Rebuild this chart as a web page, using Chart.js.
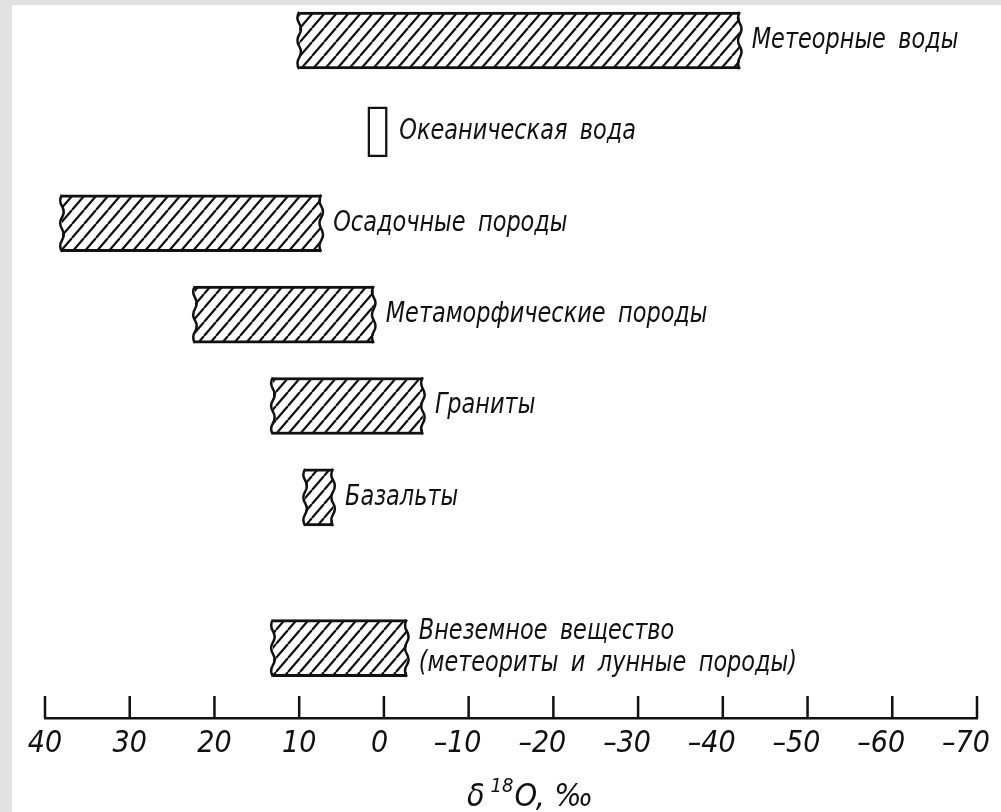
<!DOCTYPE html>
<html>
<head>
<meta charset="utf-8">
<script src="https://cdn.jsdelivr.net/npm/chart.js@4.4.0/dist/chart.umd.min.js"></script>
<style>
html, body { margin: 0; padding: 0; background: #fff; }
canvas { display: block; }
</style>
</head>
<body>
<canvas id="chart" width="1001" height="812"></canvas>
<script>
// data (delta 18O, per mille)
var categories = ['Метеорные воды', 'Океаническая вода', 'Осадочные породы', 'Метаморфические породы',
    'Граниты', 'Базальты', ['Внеземное вещество', '(метеориты и лунные породы)']];
var rowIndex = [0, 1, 2, 3, 4, 5, 6.65];
var rangeFrom = [10, 1.9, 38, 22.3, 13.1, 9.3, 13.1];
var rangeTo = [-42, -0.4, 7.4, 1.2, -4.6, 6, -2.7];
var tickValues = [40, 30, 20, 10, 0, -10, -20, -30, -40, -50, -60, -70];

var FONT = '"Liberation Sans Narrow", "DejaVu Sans Condensed", sans-serif';
var INK = '#111';
var plainRow = 1; // oceanic water is drawn as an empty box

function hatch() {
    var w = 12, h = 14;
    var c = document.createElement('canvas');
    c.width = w; c.height = h;
    var g = c.getContext('2d');
    g.fillStyle = '#fff';
    g.fillRect(0, 0, w, h);
    g.strokeStyle = INK;
    g.lineWidth = 2.2;
    g.beginPath();
    for (var k = -1; k <= 1; k++) {
        g.moveTo(k * w, h);
        g.lineTo(k * w + w, 0);
    }
    g.stroke();
    return g.createPattern(c, 'repeat');
}

var rows = categories.map(function (c, i) {
    return { x: [rangeFrom[i], rangeTo[i]], y: rowIndex[i], name: c };
});

function wave(ctx, x, top, bottom) {
    var n = 5;
    var step = (bottom - top) / n;
    ctx.beginPath();
    ctx.moveTo(x, top);
    for (var k = 0; k < n; k++) {
        var y0 = top + k * step;
        ctx.quadraticCurveTo(x + (k % 2 ? 3.5 : -3.5), y0 + step / 2, x, y0 + step);
    }
    ctx.stroke();
}

var figurePlugin = {
    id: 'figure',
    beforeDraw: function (chart) {
        var ctx = chart.ctx;
        ctx.save();
        ctx.fillStyle = '#e2e2e2';
        ctx.fillRect(0, 0, chart.width, chart.height);
        ctx.fillStyle = '#fff';
        ctx.fillRect(12, 5, chart.width - 12, chart.height - 5);
        ctx.restore();
    },
    afterDatasetsDraw: function (chart) {
        var ctx = chart.ctx;
        ctx.save();
        ctx.strokeStyle = INK;
        ctx.fillStyle = INK;
        ctx.lineWidth = 2.5;
        chart.data.datasets.forEach(function (ds, di) {
            var meta = chart.getDatasetMeta(di);
            meta.data.forEach(function (bar, j) {
                var left = Math.min(bar.x, bar.base);
                var right = Math.max(bar.x, bar.base);
                var top = bar.y - bar.height / 2;
                var bottom = bar.y + bar.height / 2;
                if (ds.wavy) {
                    wave(ctx, left, top, bottom);
                    wave(ctx, right, top, bottom);
                }
                var name = ds.data[j].name;
                var lines = Array.isArray(name) ? name : [name];
                ctx.font = 'italic 28px ' + FONT;
                ctx.textAlign = 'left';
                ctx.textBaseline = 'middle';
                ctx.wordSpacing = '6px';
                lines.forEach(function (t, k) {
                    // the figure's lettering is narrower than the font
                    ctx.save();
                    ctx.translate(right + 12, bar.y + (k - (lines.length - 1) / 2) * 32);
                    ctx.scale(0.89, 1);
                    ctx.fillText(t, 0, 0);
                    ctx.restore();
                });
            });
        });
        ctx.restore();
    },
    afterDraw: function (chart) {
        var ctx = chart.ctx;
        var xs = chart.scales.x;
        ctx.save();
        ctx.strokeStyle = INK;
        ctx.lineWidth = 2.5;
        ctx.beginPath();
        xs.ticks.forEach(function (t) {
            var px = xs.getPixelForValue(t.value);
            ctx.moveTo(px, xs.top);
            ctx.lineTo(px, xs.top - 22);
        });
        ctx.stroke();
        // axis title: delta 18O, per mille
        ctx.fillStyle = INK;
        ctx.textAlign = 'left';
        ctx.textBaseline = 'alphabetic';
        var x0 = 467, base = 806;
        ctx.font = 'italic 32px ' + FONT;
        ctx.fillText('δ', x0, base);
        x0 += ctx.measureText('δ').width + 6;
        ctx.font = 'italic 20px ' + FONT;
        ctx.fillText('18', x0, base - 14);
        x0 += ctx.measureText('18').width + 1;
        ctx.font = 'italic 32px ' + FONT;
        ctx.fillText('O, ‰', x0, base);
        ctx.restore();
    }
};

var ctx = document.getElementById('chart').getContext('2d');
var chart = new Chart(ctx, {
    type: 'bar',
    data: {
        datasets: [{
            data: rows.filter(function (r, i) { return i !== plainRow; }),
            backgroundColor: hatch(),
            borderColor: INK,
            borderWidth: { top: 3, bottom: 3, left: 0, right: 0 },
            borderSkipped: false,
            barThickness: 57,
            grouped: false,
            wavy: true
        }, {
            data: [rows[plainRow]],
            backgroundColor: '#fff',
            borderColor: INK,
            borderWidth: 2.5,
            borderSkipped: false,
            barThickness: 50,
            grouped: false
        }]
    },
    options: {
        indexAxis: 'y',
        responsive: false,
        animation: false,
        layout: { padding: { left: 45, right: 24, top: 0, bottom: 0 } },
        plugins: { legend: { display: false }, tooltip: { enabled: false } },
        scales: {
            x: {
                type: 'linear',
                min: -70,
                max: 40,
                reverse: true,
                afterBuildTicks: function (scale) {
                    scale.ticks = tickValues.map(function (v) { return { value: v }; });
                },
                afterFit: function (scale) {
                    scale.height = 94;
                    scale.paddingLeft = 0;
                    scale.paddingRight = 0;
                },
                grid: { display: false, drawTicks: false },
                border: { display: true, color: INK, width: 2.5 },
                ticks: {
                    autoSkip: false,
                    maxRotation: 0,
                    padding: 8,
                    color: INK,
                    font: { family: FONT, size: 30, style: 'italic' },
                    callback: function (v) {
                        return v < 0 ? '–' + Math.abs(v) + '\u2002 ' : (v === 0 ? '0 ' : String(v));
                    }
                }
            },
            y: {
                type: 'linear',
                display: false,
                offset: false,
                min: -0.443,
                max: 7.415,
                reverse: true
            }
        }
    },
    plugins: [figurePlugin]
});
</script>
</body>
</html>
